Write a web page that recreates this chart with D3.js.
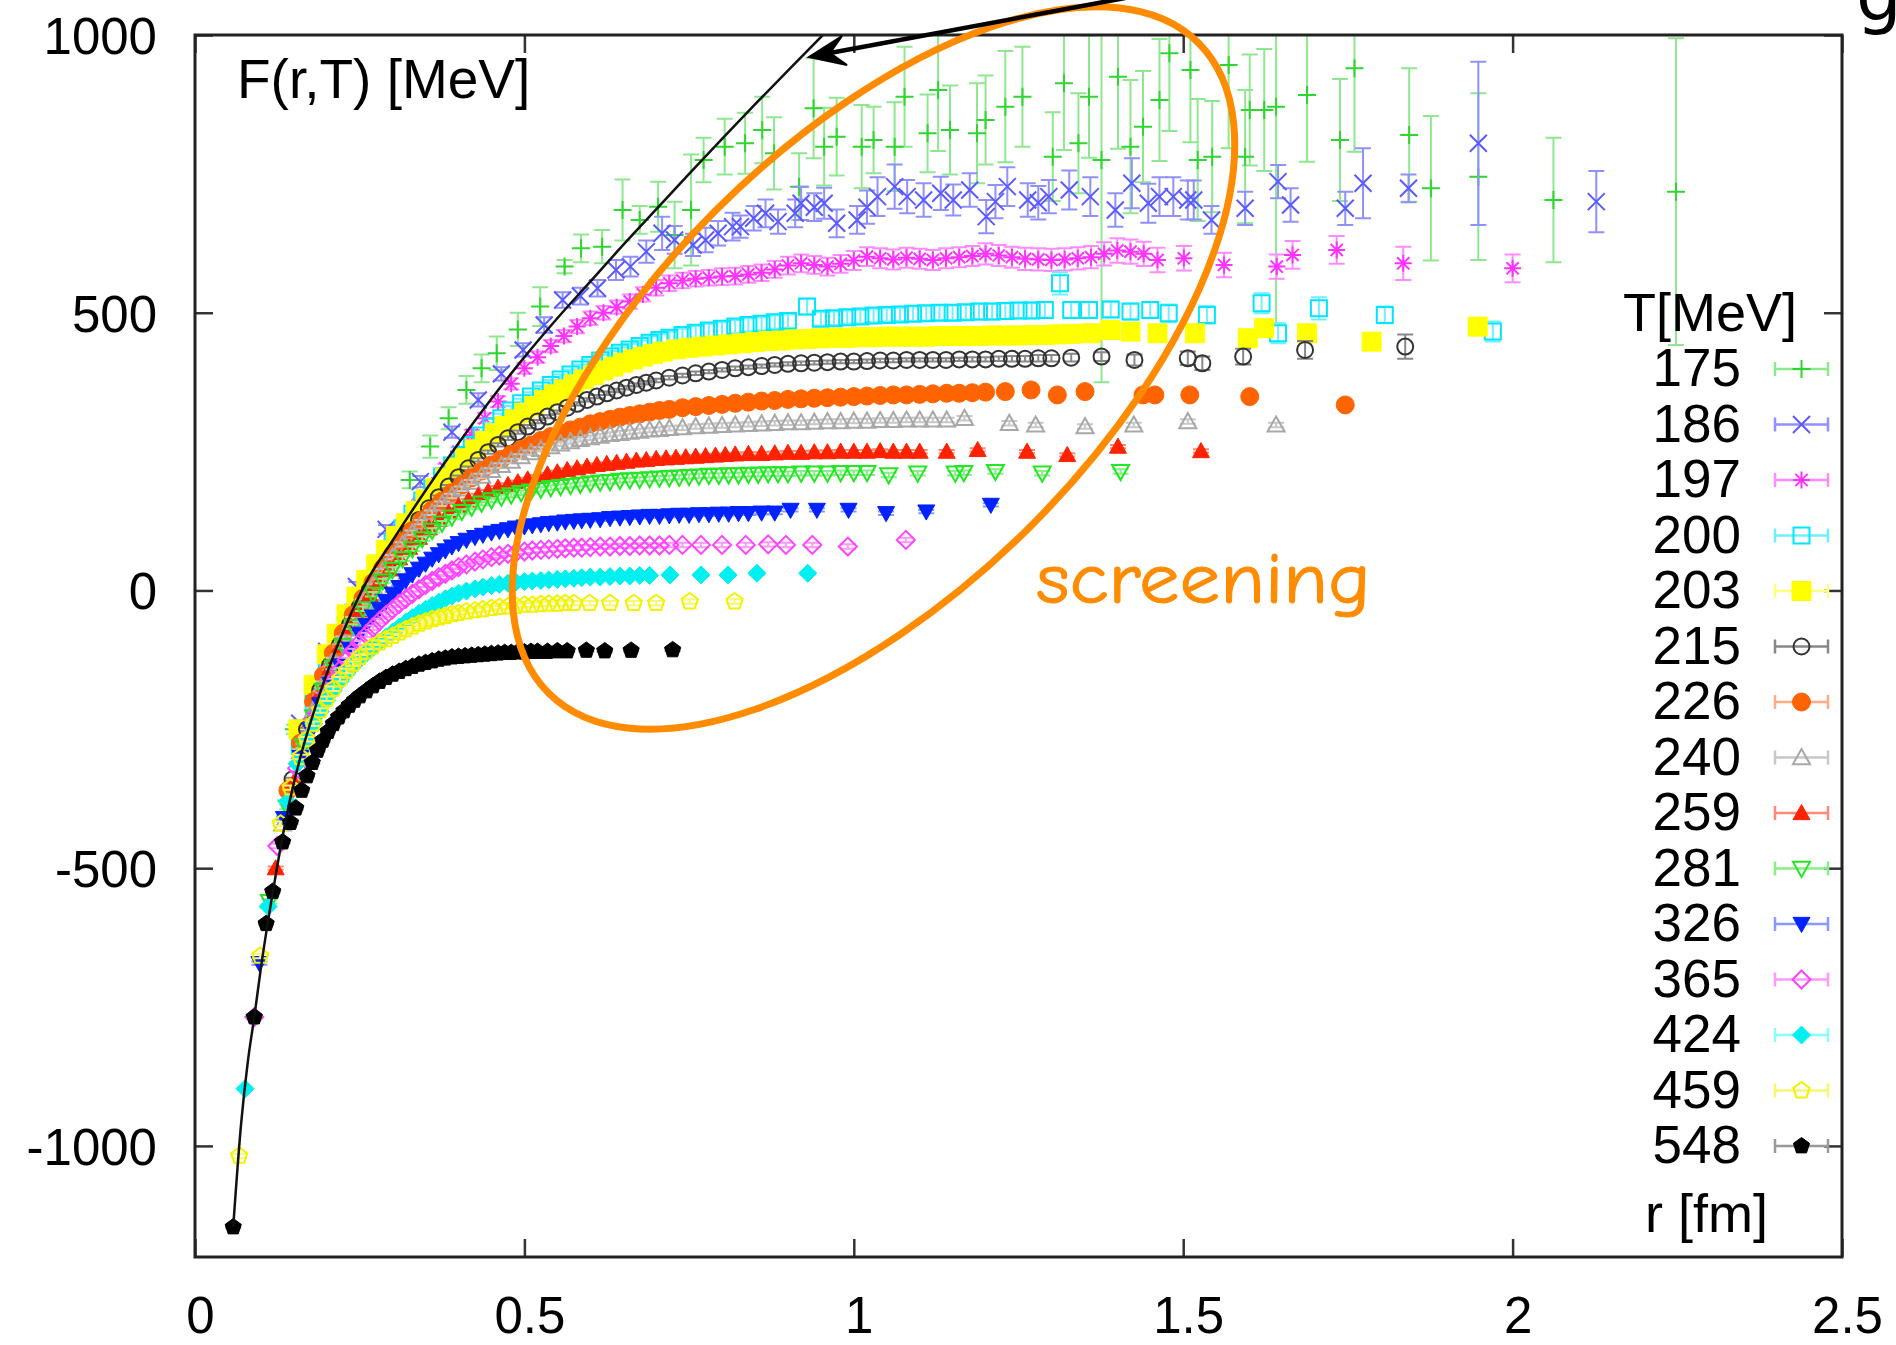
<!DOCTYPE html>
<html><head><meta charset="utf-8">
<script src="https://cdn.jsdelivr.net/npm/d3@7"></script>
<style>body{margin:0;background:#fff}svg{display:block}</style>
</head><body><svg id="chart" width="1896" height="1345"></svg>
<script>
// ---------------- DATA ----------------
const temps = [175,186,197,200,203,215,226,240,259,281,326,365,424,459,548];
const xTicks = [0,0.5,1,1.5,2,2.5];
const yTicks = [-1000,-500,0,500,1000];
const xLabel = "r [fm]";
const yLabel = "F(r,T) [MeV]";
const keyTitle = "T[MeV]";
const noteText = "screening";

const r175 = [0.15,0.18,0.22,0.27,0.30,0.326,0.357,0.385,0.412,0.435,0.458,0.49,0.524,0.561,0.586,0.618,0.649,0.675,0.703,0.728,0.753,0.772,0.804,0.835,0.861,0.879,0.917,0.939,0.955,0.974,1.012,1.03,1.062,1.077,1.112,1.128,1.146,1.187,1.20,1.23,1.256,1.302,1.319,1.341,1.357,1.376,1.401,1.42,1.439,1.464,1.479,1.511,1.522,1.544,1.569,1.594,1.601,1.623,1.641,1.688,1.738,1.76,1.843,1.876,1.948,2.062,2.248];
const F175 = [-250,-191,-80,-17,90,199,259,310,361,400,427,470,511,583,616,619,685,667,691,640,685,775,799,805,829,787,727,868,799,817,799,811,799,889,823,901,829,823,847,871,889,781,913,805,889,775,925,799,835,883,967,937,775,781,946,781,865,865,871,892,811,940,820,724,745,703,718];
const e175 = [8,10,10,12,15,15,20,20,25,25,30,30,35,12,25,30,55,25,45,60,100,40,50,55,60,65,60,90,70,70,75,60,80,90,70,110,80,90,80,100,90,80,120,90,110,400,130,120,100,110,140,130,110,100,150,120,100,110,390,120,110,150,120,130,150,112,276];

const r186 = [0.159,0.20,0.245,0.29,0.342,0.39,0.43,0.465,0.498,0.53,0.558,0.585,0.611,0.639,0.661,0.685,0.709,0.728,0.756,0.775,0.794,0.816,0.828,0.848,0.866,0.885,0.911,0.92,0.94,0.955,0.974,1.005,1.02,1.036,1.062,1.081,1.106,1.132,1.151,1.176,1.201,1.215,1.233,1.264,1.28,1.296,1.327,1.359,1.397,1.422,1.447,1.464,1.485,1.507,1.516,1.543,1.594,1.644,1.663,1.746,1.773,1.842,1.948,2.127];
const F186 = [-239,-110,7,110,196,285,343,390,433,478,523,530,544,577,583,610,643,631,622,631,643,655,655,670,679,664,679,697,690,697,661,667,690,709,727,709,703,715,703,721,673,700,727,703,698,709,721,709,685,733,697,709,709,703,703,667,688,736,694,688,733,724,805,700];
const e186 = [5,5,8,8,10,10,12,12,12,14,14,15,15,18,18,20,30,25,20,22,22,25,20,22,25,22,25,30,25,28,25,25,30,35,40,30,30,30,28,30,30,30,35,30,30,30,35,35,30,45,35,35,35,35,35,25,30,30,30,30,63,25,147,55];

const r197 = [0.16,0.18,0.20,0.22,0.24,0.26,0.28,0.30,0.32,0.34,0.36,0.38,0.40,0.42,0.44,0.46,0.48,0.50,0.52,0.54,0.56,0.58,0.60,0.62,0.64,0.66,0.68,0.70,0.72,0.74,0.76,0.78,0.80,0.82,0.84,0.86,0.88,0.90,0.92,0.94,0.96,0.98,1.0,1.02,1.04,1.06,1.08,1.10,1.12,1.14,1.16,1.18,1.20,1.22,1.24,1.26,1.28,1.30,1.32,1.34,1.36,1.38,1.40,1.42,1.44,1.461,1.501,1.562,1.642,1.666,1.733,1.834,2.0];
const F197 = [-250,-190,-135,-85,-38,5,45,85,122,156,189,220,250,280,310,340,372,400,420,440,458,475,490,500,510,520,533,545,553,558,561,563,565,566,569,572,578,585,589,586,583,588,594,601,598,596,599,597,595,598,600,602,606,603,600,597,596,595,596,598,600,606,612,610,606,595,598,586,583,604,613,589,580];
const e197 = [4,4,5,5,5,6,6,6,7,7,8,8,8,9,9,10,10,10,10,11,11,12,12,12,12,13,13,14,14,14,14,14,15,15,15,15,15,16,16,16,16,16,17,17,18,18,18,18,18,18,18,18,19,19,19,20,20,20,20,20,20,21,22,22,22,22,22,22,22,25,25,30,25];

const r200 = [0.159,0.18,0.20,0.22,0.24,0.26,0.28,0.30,0.315,0.33,0.345,0.36,0.375,0.39,0.405,0.42,0.435,0.45,0.465,0.48,0.495,0.51,0.525,0.54,0.555,0.57,0.585,0.6,0.615,0.63,0.645,0.66,0.675,0.69,0.705,0.72,0.74,0.76,0.78,0.80,0.82,0.84,0.86,0.88,0.9,0.929,0.95,0.97,0.99,1.01,1.03,1.05,1.07,1.09,1.11,1.13,1.15,1.17,1.19,1.21,1.23,1.25,1.27,1.29,1.313,1.33,1.357,1.39,1.42,1.45,1.478,1.536,1.619,1.644,1.706,1.806,1.97];
const F200 = [-280,-200,-140,-88,-40,5,48,85,112,138,162,184,205,225,244,262,279,295,310,324,337,349,360,370,380,389,398,406,414,421,428,434,440,446,451,455,460,464,468,471,475,478,480,483,485,511,489,490,492,493,495,496,497,498,499,500,500,501,502,502,503,504,504,505,553,505,505,506,502,505,499,496,517,463,508,496,466];
const e200 = [3,3,3,4,4,4,5,5,5,5,6,6,6,6,7,7,7,7,8,8,8,8,8,9,9,9,9,10,10,10,10,10,10,11,11,11,11,12,12,12,12,12,12,12,12,14,12,12,12,12,12,12,12,13,13,13,13,13,14,14,14,14,14,14,20,14,14,14,14,14,16,16,18,18,20,15,18];

const r203 = [0.157,0.18,0.20,0.215,0.23,0.245,0.26,0.275,0.29,0.305,0.32,0.335,0.35,0.365,0.38,0.395,0.41,0.425,0.44,0.455,0.47,0.485,0.5,0.515,0.53,0.545,0.56,0.575,0.59,0.605,0.62,0.635,0.65,0.665,0.68,0.695,0.71,0.73,0.75,0.77,0.79,0.81,0.83,0.85,0.87,0.89,0.91,0.93,0.95,0.97,0.99,1.01,1.03,1.05,1.07,1.09,1.11,1.13,1.15,1.17,1.19,1.21,1.23,1.25,1.27,1.29,1.31,1.33,1.36,1.389,1.42,1.461,1.518,1.598,1.623,1.688,1.786,1.947];
const F203 = [-250,-170,-115,-78,-43,-11,19,47,73,98,121,143,164,184,203,221,238,254,269,283,296,308,320,332,343,353,362,371,380,388,396,403,410,416,421,426,430,434,437,439,441,443,445,447,449,450,452,453,454,455,455,456,456,457,457,457,457,458,458,458,458,459,459,459,460,460,461,462,463,469,466,463,463,454,472,463,448,475];

const r215 = [0.148,0.17,0.19,0.205,0.22,0.235,0.25,0.265,0.28,0.295,0.31,0.325,0.34,0.355,0.37,0.385,0.40,0.415,0.43,0.445,0.46,0.475,0.49,0.505,0.52,0.535,0.55,0.565,0.58,0.595,0.61,0.625,0.64,0.655,0.67,0.685,0.70,0.72,0.74,0.76,0.78,0.80,0.82,0.84,0.86,0.88,0.9,0.92,0.94,0.96,0.98,1.0,1.02,1.04,1.06,1.08,1.1,1.12,1.14,1.16,1.18,1.2,1.22,1.24,1.26,1.28,1.3,1.33,1.376,1.426,1.507,1.529,1.591,1.685,1.837];
const F215 = [-340,-250,-180,-135,-98,-62,-30,0,28,55,80,104,127,148,168,187,204,220,235,249,262,274,285,295,304,313,321,329,336,343,349,355,360,365,370,374,378,383,387,391,394,397,400,402,404,406,408,409,410,411,412,412,413,414,414,415,415,415,415,416,416,416,417,417,417,418,418,419,421,415,418,409,421,433,439];
const e215 = [3,3,3,3,3,3,3,3,3,3,3,3,3,3,3,3,3,3,3,3,3,3,3,3,3,3,3,3,3,3,3,3,3,3,3,3,3,3,3,3,3,3,3,3,3,3,3,3,3,3,3,3,3,3,3,3,3,3,3,3,4,4,4,5,5,6,6,7,8,10,12,12,14,16,22];

const r226 = [0.141,0.16,0.18,0.195,0.21,0.225,0.24,0.255,0.27,0.285,0.30,0.315,0.33,0.345,0.36,0.375,0.39,0.405,0.42,0.435,0.45,0.465,0.48,0.495,0.51,0.525,0.54,0.555,0.57,0.585,0.6,0.615,0.63,0.645,0.66,0.675,0.69,0.705,0.72,0.74,0.76,0.78,0.80,0.82,0.84,0.86,0.88,0.9,0.92,0.94,0.96,0.98,1.0,1.02,1.04,1.06,1.08,1.1,1.12,1.141,1.16,1.18,1.2,1.23,1.269,1.309,1.351,1.439,1.457,1.51,1.601,1.746];
const F226 = [-360,-275,-200,-153,-113,-77,-44,-14,14,40,65,88,108,127,145,161,176,190,203,215,226,236,245,254,262,270,277,283,289,294,300,304,308,312,315,318,321,324,326,329,331,333,335,337,339,341,342,344,345,346,347,348,349,350,351,352,352,353,354,355,355,356,357,358,361,352,358,352,352,352,349,334];

const r240 = [0.133,0.16,0.18,0.195,0.21,0.225,0.24,0.255,0.27,0.285,0.30,0.315,0.33,0.345,0.36,0.375,0.39,0.405,0.42,0.435,0.45,0.465,0.48,0.495,0.51,0.525,0.54,0.555,0.57,0.585,0.6,0.615,0.63,0.645,0.66,0.675,0.69,0.705,0.72,0.74,0.76,0.78,0.80,0.82,0.84,0.86,0.88,0.9,0.92,0.94,0.96,0.98,1.0,1.02,1.04,1.06,1.08,1.1,1.12,1.141,1.168,1.236,1.276,1.351,1.425,1.507,1.641];
const F240 = [-420,-290,-215,-168,-125,-87,-52,-20,8,35,60,83,104,123,140,156,170,183,195,206,216,225,233,241,248,254,259,264,268,272,275,278,281,283,285,287,289,290,292,293,295,296,297,298,299,300,301,302,302,303,304,304,305,305,306,306,307,307,307,307,310,301,298,295,298,304,298];

const r259 = [0.1225,0.15,0.175,0.19,0.205,0.22,0.235,0.25,0.265,0.28,0.295,0.31,0.325,0.34,0.355,0.37,0.385,0.40,0.415,0.43,0.445,0.46,0.475,0.49,0.505,0.52,0.535,0.55,0.565,0.58,0.595,0.61,0.625,0.64,0.655,0.67,0.685,0.70,0.715,0.73,0.745,0.76,0.775,0.79,0.805,0.82,0.84,0.86,0.88,0.9,0.92,0.94,0.96,0.98,1.0,1.02,1.04,1.06,1.08,1.1,1.141,1.188,1.263,1.324,1.401,1.527];
const F259 = [-500,-345,-235,-185,-140,-100,-65,-35,-8,16,38,58,77,95,112,127,140,152,162,171,178,185,190,195,200,205,209,213,217,220,223,226,228,230,232,234,235,237,238,239,240,241,242,243,244,245,246,246,247,248,248,249,249,250,250,250,251,250,250,250,250,253,250,244,259,251];

const r281 = [0.113,0.14,0.165,0.18,0.195,0.21,0.225,0.24,0.255,0.27,0.285,0.30,0.315,0.33,0.345,0.36,0.375,0.39,0.405,0.42,0.435,0.45,0.465,0.48,0.495,0.51,0.525,0.54,0.555,0.57,0.585,0.6,0.615,0.63,0.645,0.66,0.675,0.69,0.705,0.72,0.735,0.75,0.765,0.78,0.795,0.81,0.825,0.84,0.855,0.87,0.885,0.9,0.92,0.94,0.96,0.98,1.0,1.02,1.053,1.097,1.154,1.167,1.215,1.286,1.405];
const F281 = [-560,-390,-280,-228,-180,-138,-100,-65,-33,-7,17,38,57,75,93,108,121,132,142,150,157,163,168,172,176,179,182,185,187,189,191,193,195,196,198,199,200,201,202,203,204,205,206,207,207,208,208,209,209,210,210,210,211,211,211,212,212,212,208,211,211,212,214,211,214];

const r326 = [0.0977,0.135,0.16,0.175,0.19,0.205,0.22,0.235,0.25,0.26,0.27,0.28,0.29,0.30,0.31,0.32,0.33,0.34,0.35,0.36,0.37,0.38,0.39,0.40,0.412,0.425,0.437,0.45,0.462,0.475,0.487,0.5,0.512,0.525,0.537,0.55,0.562,0.575,0.587,0.6,0.615,0.63,0.645,0.66,0.675,0.69,0.705,0.72,0.735,0.75,0.765,0.78,0.795,0.81,0.825,0.84,0.86,0.88,0.904,0.944,0.992,1.049,1.11,1.208];
const F326 = [-671,-410,-300,-250,-205,-168,-135,-105,-78,-62,-47,-33,-19,-6,6,18,29,39,48,57,65,72,79,85,91,96,100,104,107,110,113,115,117,119,121,122,124,125,126,127,128,130,131,132,133,134,134,135,136,136,137,137,138,138,139,139,140,140,145,145,145,139,142,154];

const r365 = [0.090,0.125,0.155,0.17,0.185,0.20,0.21,0.22,0.23,0.24,0.25,0.26,0.27,0.28,0.29,0.30,0.31,0.32,0.33,0.34,0.35,0.36,0.37,0.38,0.39,0.40,0.412,0.425,0.437,0.45,0.462,0.475,0.487,0.5,0.512,0.525,0.537,0.55,0.562,0.575,0.587,0.6,0.615,0.63,0.645,0.66,0.675,0.69,0.705,0.72,0.74,0.768,0.80,0.836,0.87,0.897,0.937,0.991,1.079];
const F365 = [-768,-460,-320,-265,-222,-185,-163,-143,-125,-109,-94,-80,-67,-55,-44,-34,-24,-15,-6,2,10,17,24,30,36,42,47,52,56,60,63,66,68,70,72,73,74,75,76,77,77,78,79,79,80,80,81,81,81,82,82,82,82,82,83,82,82,79,91];

const r424 = [0.076,0.111,0.14,0.155,0.17,0.18,0.19,0.20,0.21,0.22,0.23,0.24,0.25,0.26,0.27,0.28,0.29,0.30,0.31,0.32,0.33,0.34,0.35,0.36,0.37,0.38,0.39,0.40,0.412,0.425,0.437,0.45,0.462,0.475,0.487,0.5,0.512,0.525,0.537,0.55,0.562,0.575,0.587,0.6,0.615,0.63,0.645,0.66,0.675,0.69,0.721,0.768,0.809,0.853,0.93];
const F424 = [-897,-569,-380,-312,-265,-240,-218,-198,-180,-164,-149,-136,-124,-113,-103,-93,-84,-75,-66,-57,-49,-41,-34,-27,-21,-15,-10,-5,-1,3,6,9,11,13,15,16,17,18,19,20,21,22,23,24,24,25,26,26,27,27,28,28,28,31,31];

const r459 = [0.067,0.099,0.13,0.145,0.16,0.17,0.18,0.19,0.20,0.21,0.22,0.23,0.24,0.25,0.26,0.27,0.28,0.29,0.30,0.31,0.32,0.33,0.34,0.35,0.36,0.37,0.38,0.39,0.40,0.412,0.425,0.437,0.45,0.462,0.475,0.487,0.5,0.512,0.525,0.537,0.55,0.562,0.575,0.599,0.63,0.666,0.70,0.751,0.819];
const F459 = [-1018,-658,-420,-355,-300,-268,-240,-216,-195,-177,-160,-145,-132,-120,-110,-101,-94,-88,-82,-76,-70,-65,-60,-56,-52,-49,-46,-43,-41,-38,-36,-34,-32,-30,-29,-28,-26,-26,-25,-24,-24,-23,-23,-23,-23,-23,-23,-20,-20];

const r548 = [0.058,0.090,0.108,0.118,0.133,0.145,0.153,0.162,0.17,0.178,0.186,0.194,0.202,0.21,0.218,0.226,0.234,0.242,0.25,0.26,0.27,0.28,0.29,0.30,0.31,0.32,0.33,0.34,0.35,0.36,0.37,0.38,0.39,0.40,0.41,0.42,0.43,0.44,0.45,0.46,0.47,0.48,0.49,0.50,0.51,0.52,0.535,0.55,0.565,0.594,0.622,0.662,0.725];
const F548 = [-1146,-768,-600,-542,-453,-418,-392,-360,-334,-310,-288,-270,-254,-240,-228,-217,-207,-198,-190,-181,-172,-164,-157,-151,-146,-141,-137,-133,-130,-127,-124,-122,-120,-119,-118,-117,-116,-115,-114,-113,-112,-112,-111,-111,-110,-110,-110,-109,-109,-108,-109,-108,-107];

// typical (small) error bar of the series that have no visible spread
const typicalErr = {203:3,226:3,240:4,259:3,281:4,326:3,365:4,424:3,459:4,548:2};

// T = 0 potential (black line)
const lineR = [0.058,0.07,0.08,0.09,0.10,0.12,0.14,0.16,0.18,0.20,0.23,0.26,0.30,0.35,0.40,0.45,0.50,0.55,0.60,0.65,0.70,0.75,0.80,0.85,0.90,0.953];
const lineF = [-1146,-960,-850,-768,-680,-530,-400,-300,-220,-150,-60,15,90,180,265,345,420,490,556,622,686,750,813,875,936,1000];

// ---------------- STYLES ----------------
const styles = {
  175:{color:'#2fd62f', bar:'#8fe88f', shape:'plus',     fill:false, size:18},
  186:{color:'#5a5aff', bar:'#9090ff', shape:'times',    fill:false, size:17},
  197:{color:'#ff33ff', bar:'#ff8cff', shape:'star',     fill:false, size:17},
  200:{color:'#00e6ff', bar:'#70f0ff', shape:'square',   fill:false, size:16},
  203:{color:'#ffff00', bar:'#ffff80', shape:'square',   fill:true,  size:19},
  215:{color:'#333333', bar:'#888888', shape:'circle',   fill:false, size:16},
  226:{color:'#ff6400', bar:'#ffaa88', shape:'circle',   fill:true,  size:18},
  240:{color:'#a8a8a8', bar:'#c8c8c8', shape:'triUp',    fill:false, size:17},
  259:{color:'#ff2200', bar:'#ff8877', shape:'triUp',    fill:true,  size:17},
  281:{color:'#22e822', bar:'#88ee88', shape:'triDown',  fill:false, size:17},
  326:{color:'#0022ff', bar:'#8899ff', shape:'triDown',  fill:true,  size:17},
  365:{color:'#ff44ff', bar:'#ff99ff', shape:'diamond',  fill:false, size:18},
  424:{color:'#00f0f0', bar:'#88ffff', shape:'diamond',  fill:true,  size:18},
  459:{color:'#f2f200', bar:'#f8f870', shape:'pentagon', fill:false, size:17},
  548:{color:'#000000', bar:'#999999', shape:'pentagon', fill:true,  size:17}
};

const seriesArrays = {
  175:[r175,F175,e175],186:[r186,F186,e186],197:[r197,F197,e197],200:[r200,F200,e200],
  203:[r203,F203,null],215:[r215,F215,e215],226:[r226,F226,null],240:[r240,F240,null],
  259:[r259,F259,null],281:[r281,F281,null],326:[r326,F326,null],365:[r365,F365,null],
  424:[r424,F424,null],459:[r459,F459,null],548:[r548,F548,null]
};

// ---------------- LAYOUT ----------------
const L = 195, R = 1842, T = 35, B = 1257;
const x = d3.scaleLinear().domain([0,2.5]).range([L,R]);
const y = d3.scaleLinear().domain([-1200,1000]).range([B,T]);
const font = "'Liberation Sans', Arial, Helvetica, sans-serif";

const svg = d3.select('#chart');
svg.append('rect').attr('width',1896).attr('height',1345).attr('fill','#fff');
svg.append('defs').append('clipPath').attr('id','clip')
  .append('rect').attr('x',L).attr('y',T).attr('width',R-L).attr('height',B-T);

function symPath(t, s){
  const h = s/2;
  switch(t){
    case 'plus': return `M${-h},0H${h}M0,${-h}V${h}`;
    case 'times': return `M${-h},${-h}L${h},${h}M${-h},${h}L${h},${-h}`;
    case 'star': { const k=h*0.72; return `M${-h},0H${h}M0,${-h}V${h}M${-k},${-k}L${k},${k}M${-k},${k}L${k},${-k}`; }
    case 'square': return `M${-h},${-h}H${h}V${h}H${-h}Z`;
    case 'circle': return `M${h},0A${h},${h} 0 1,1 ${-h},0A${h},${h} 0 1,1 ${h},0Z`;
    case 'triUp': return `M0,${-h}L${h},${h*0.78}L${-h},${h*0.78}Z`;
    case 'triDown': return `M0,${h}L${h},${-h*0.78}L${-h},${-h*0.78}Z`;
    case 'diamond': return `M0,${-h}L${h},0L0,${h}L${-h},0Z`;
    case 'pentagon': {
      let p = '';
      for(let i=0;i<5;i++){ const a = -Math.PI/2 + i*2*Math.PI/5; p += (i?'L':'M') + (h*Math.cos(a)).toFixed(2)+','+(h*Math.sin(a)).toFixed(2); }
      return p+'Z';
    }
  }
}
function styleMarker(sel, st){
  const open = !st.fill;
  sel.attr('fill', open ? 'none' : st.color)
     .attr('stroke', st.color)
     .attr('stroke-width', open ? 2 : 1);
}

const plot = svg.append('g').attr('clip-path','url(#clip)');

temps.forEach(Tv => {
  const [rr, ff, ee] = seriesArrays[Tv];
  const st = styles[Tv];
  const pts = rr.map((r,i)=>({r, F:ff[i], e: ee ? ee[i] : typicalErr[Tv]}));
  const g = plot.append('g').attr('class','s'+Tv);
  const cap = 8;
  g.selectAll('path.err').data(pts).enter().append('path')
    .attr('class','err')
    .attr('d', d => {
      const xx = x(d.r), y1 = y(d.F + d.e), y2 = y(d.F - d.e);
      return `M${xx},${y1}V${y2}M${xx-cap},${y1}H${xx+cap}M${xx-cap},${y2}H${xx+cap}`;
    })
    .attr('fill','none').attr('stroke', st.bar).attr('stroke-width',2);
  g.selectAll('path.m').data(pts).enter().append('path')
    .attr('class','m')
    .attr('transform', d => `translate(${x(d.r)},${y(d.F)})`)
    .attr('d', symPath(st.shape, st.size))
    .call(styleMarker, st);
});

// T=0 line
plot.append('path')
  .datum(lineR.map((r,i)=>[r, lineF[i]]))
  .attr('d', d3.line().x(d=>x(d[0])).y(d=>y(d[1])).curve(d3.curveMonotoneX))
  .attr('fill','none').attr('stroke','#111').attr('stroke-width',2.5);

// axes (inward ticks, mirrored)
const fmt = v => String(v);
const axB = svg.append('g').attr('transform',`translate(0,${B})`)
  .call(d3.axisBottom(x).tickValues(xTicks).tickSize(-18).tickPadding(38).tickFormat(fmt));
const axT = svg.append('g').attr('transform',`translate(0,${T})`)
  .call(d3.axisTop(x).tickValues(xTicks).tickSize(-18).tickFormat(''));
const axL = svg.append('g').attr('transform',`translate(${L},0)`)
  .call(d3.axisLeft(y).tickValues(yTicks).tickSize(-18).tickPadding(38).tickFormat(fmt));
const axR = svg.append('g').attr('transform',`translate(${R},0)`)
  .call(d3.axisRight(y).tickValues(yTicks).tickSize(-18).tickFormat(''));
[axB,axT,axL,axR].forEach(a => {
  a.select('.domain').remove();
  a.selectAll('.tick line').attr('stroke','#333').attr('stroke-width',2.5);
  a.selectAll('text').attr('font-family',font).attr('font-size',51).attr('fill','#000');
});
axB.selectAll('text').attr('dy',null).attr('y',76).attr('dx',5);
axL.selectAll('text').attr('dy','0.36em');

// frame
svg.append('rect').attr('x',L).attr('y',T).attr('width',R-L).attr('height',B-T)
  .attr('fill','none').attr('stroke','#222').attr('stroke-width',3);

// axis labels (inside the plot, gnuplot style)
svg.append('text').attr('x',237).attr('y',98).attr('font-family',font).attr('font-size',55).text(yLabel);
svg.append('text').attr('x',1768).attr('y',1232).attr('text-anchor','end').attr('font-family',font).attr('font-size',54).text(xLabel);

// key
const key = svg.append('g');
key.append('text').attr('x',1710).attr('y',331).attr('text-anchor','middle')
  .attr('font-family',font).attr('font-size',54).text(keyTitle);
temps.forEach((Tv,i) => {
  const st = styles[Tv];
  const cy = 369 + i*55.5;
  key.append('text').attr('x',1741).attr('y',cy+17).attr('text-anchor','end')
    .attr('font-family',font).attr('font-size',53).text(String(Tv));
  key.append('path').attr('d',`M1775,${cy}H1828M1775,${cy-7}V${cy+7}M1828,${cy-7}V${cy+7}`)
    .attr('stroke', st.bar).attr('stroke-width',2.5).attr('fill','none');
  key.append('path').attr('transform',`translate(1801.5,${cy})`)
    .attr('d', symPath(st.shape, st.size)).call(styleMarker, st);
});

// annotations: ellipse, arrow, text
const ann = svg.append('g');
ann.append('ellipse').attr('cx',873.5).attr('cy',368).attr('rx',459.6).attr('ry',223)
  .attr('transform','rotate(-45,873.5,368)')
  .attr('fill','none').attr('stroke','#ff8c00').attr('stroke-width',7);
ann.append('line').attr('x1',830).attr('y1',53).attr('x2',1125).attr('y2',-2)
  .attr('stroke','#000').attr('stroke-width',4.5);
ann.append('path').attr('d','M809,57L847,65L830,53L842,36Z').attr('fill','#000').attr('stroke','#000').attr('stroke-width',2);
ann.append('text').attr('x',1036).attr('y',603)
  .attr('font-family',"'Comic Sans MS','Comic Neue','DejaVu Sans',sans-serif")
  .attr('font-size',72).attr('fill','#ff8c00').attr('stroke','#ff8c00').attr('stroke-width',1)
  .attr('textLength',335).attr('lengthAdjust','spacingAndGlyphs').text(noteText);
ann.append('text').attr('x',1856).attr('y',20).attr('font-family',"'DejaVu Sans',sans-serif").attr('font-size',72).text('g');
</script></body></html>
